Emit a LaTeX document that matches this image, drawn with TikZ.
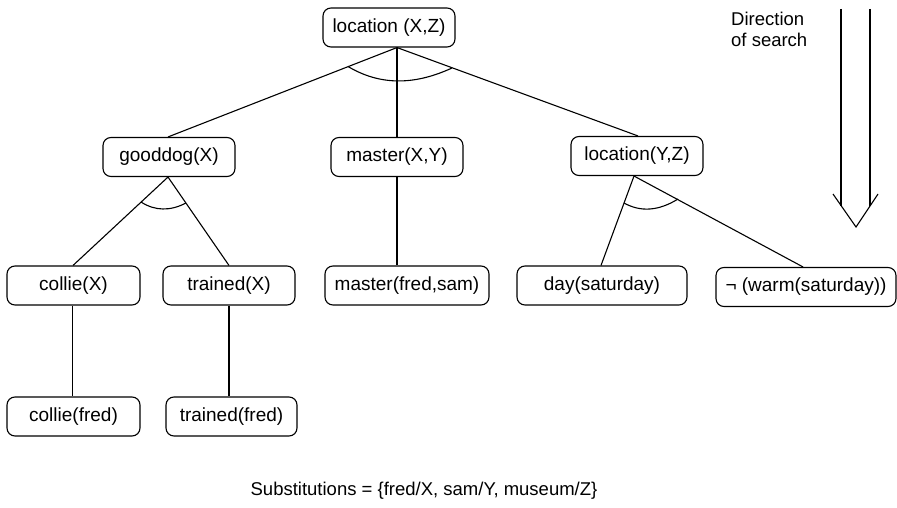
\documentclass[tikz,border=0pt]{standalone}
\usepackage{fontspec}
\setmainfont{Liberation Sans}
\usetikzlibrary{calc}
\begin{document}
\begin{tikzpicture}[x=1pt,y=-1pt,
  box/.style={draw, rounded corners=8pt, line width=1.1pt, minimum height=39pt, inner sep=0pt, font=\fontsize{19}{23}\selectfont},
  conn/.style={line width=1.1pt},
  lbl/.style={inner sep=0pt, font=\fontsize{18.5}{22}\selectfont},
  ]
\useasboundingbox (0,0) rectangle (897,508);
% nodes
\node[box, minimum width=132pt] (top) at (389,27.5) {location (X,Z)};
\node[box, minimum width=132pt] (gd) at (169,157) {gooddog(X)};
\node[box, minimum width=132pt] (mx) at (397,157) {master(X,Y)};
\node[box, minimum width=132pt] (ly) at (637,156) {location(Y,Z)};
\node[box, minimum width=133pt] (cx) at (73.5,285.5) {collie(X)};
\node[box, minimum width=132pt] (tx) at (229,285.5) {trained(X)};
\node[box, minimum width=164pt] (mf) at (407,285.5) {master(fred,sam)};
\node[box, minimum width=170pt] (ds) at (602,285.5) {day(saturday)};
\node[box, minimum width=180pt] (nw) at (806,287) {¬ (warm(saturday))};
\node[box, minimum width=133pt] (cf) at (73.5,416.5) {collie(fred)};
\node[box, minimum width=131pt] (tf) at (231.5,416.5) {trained(fred)};
% junctions
\coordinate (topj) at ([xshift=8pt]top.south);
\coordinate (gdj) at ([xshift=-1pt]gd.south);
\coordinate (lyj) at ([xshift=-3pt]ly.south);
% connectors
\draw[conn] (topj) -- ([xshift=-1pt]gd.north);
\draw[conn] (topj) -- (mx.north);
\draw[conn] (topj) -- ([xshift=1pt]ly.north);
\draw[conn] (gdj) -- ([xshift=-0.5pt]cx.north);
\draw[conn] (gdj) -- (tx.north);
\draw[conn] (lyj) -- ([xshift=-1pt]ds.north);
\draw[conn] (lyj) -- ([xshift=-3pt]nw.north);
\draw[conn] ([xshift=-1pt]cx.south) -- ([xshift=-1pt]cx.south |- cf.north);
\draw[conn] (tx.south) -- (tx.south |- tf.north);
\draw[conn] (mx.south) -- (mx.south |- mf.north);
% and-arcs
\draw[conn] (348,66.5) .. controls (379,85) and (413,86) .. (452,68);
\draw[conn] (141,202) .. controls (155,211) and (170,211.3) .. (186,203);
\draw[conn] (624,203) .. controls (640.7,212.3) and (658.7,211) .. (678,199);
% direction arrow
\coordinate (al) at (833,194);
\coordinate (ab) at (856,227);
\coordinate (ar) at (878,194);
\draw[conn] (841,9) -- (841,205.5);
\draw[conn] (870,9) -- (870,206);
\draw[conn] (al) -- (ab) -- (ar);
\node[lbl, anchor=base west] (d1) at (731,26) {Direction};
\node[lbl, anchor=base west] (d2) at (731,46.5) {of search};
% substitutions
\node[lbl, anchor=base] (subs) at (424,495) {Substitutions = \{fred/X, sam/Y, museum/Z\}};
\end{tikzpicture}
\end{document}
